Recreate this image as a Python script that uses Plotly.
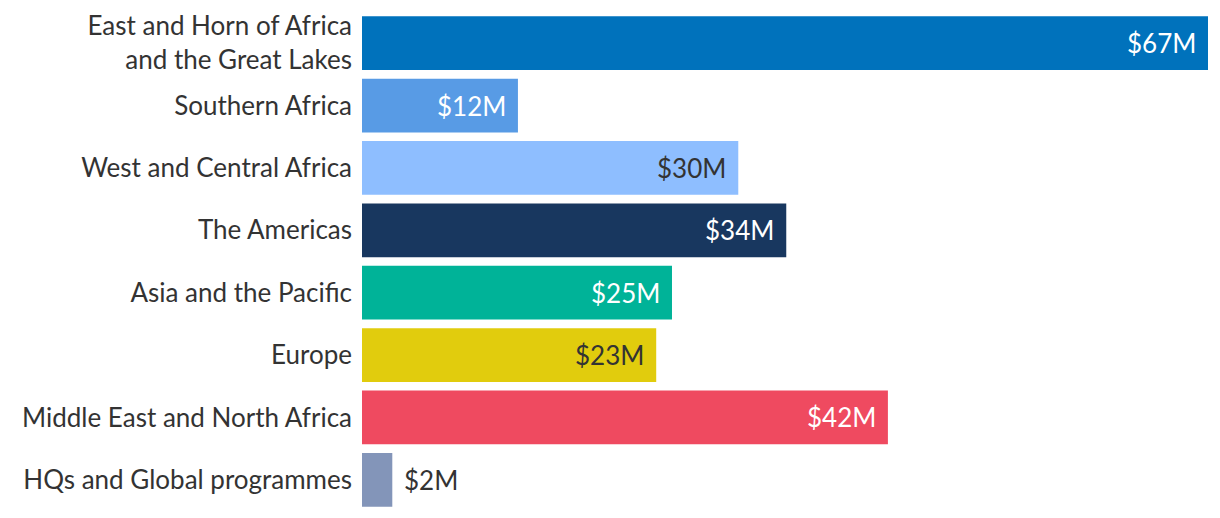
import plotly.graph_objects as go

categories = [
    "East and Horn of Africa<br>and the Great Lakes",
    "Southern Africa",
    "West and Central Africa",
    "The Americas",
    "Asia and the Pacific",
    "Europe",
    "Middle East and North Africa",
    "HQs and Global programmes",
]
values = [67.0, 12.35, 29.8, 33.6, 24.55, 23.3, 41.65, 2.4]
labels = ["$67M", "$12M", "$30M", "$34M", "$25M", "$23M", "$42M", "$2M"]
colors = ["#0072BC", "#589BE5", "#8EBEFF", "#18375F", "#00B398", "#E1CC0D", "#EF4A60", "#8395B9"]
label_colors = ["#FFFFFF", "#FFFFFF", "#333333", "#FFFFFF", "#FFFFFF", "#333333", "#FFFFFF", "#333333"]
label_inside = [True, True, True, True, True, True, True, False]

FONT = "Lato, 'Open Sans', sans-serif"

fig = go.Figure(
    go.Bar(
        x=values,
        y=categories,
        orientation="h",
        marker=dict(color=colors, line=dict(width=0)),
        hoverinfo="skip",
    )
)

for v, c, lab, lc, inside in zip(values, categories, labels, label_colors, label_inside):
    fig.add_annotation(
        x=v, y=c, text=lab, showarrow=False,
        xanchor="right" if inside else "left",
        xshift=-10 if inside else 10,
        font=dict(family=FONT, size=26, color=lc),
    )

fig.update_layout(
    width=1212, height=510,
    margin=dict(l=354, r=12, t=4, b=7),
    paper_bgcolor="white", plot_bgcolor="white",
    bargap=0.139,
    showlegend=False,
    font=dict(family=FONT, size=26, color="#333333"),
    xaxis=dict(range=[0, 67.0], visible=False, showgrid=False, zeroline=False),
    yaxis=dict(autorange="reversed", showgrid=False, zeroline=False, showline=False,
               ticks="", ticklabelstandoff=9, automargin=False,
               tickfont=dict(family=FONT, size=26, color="#333333")),
)

fig.write_html("out.html")
